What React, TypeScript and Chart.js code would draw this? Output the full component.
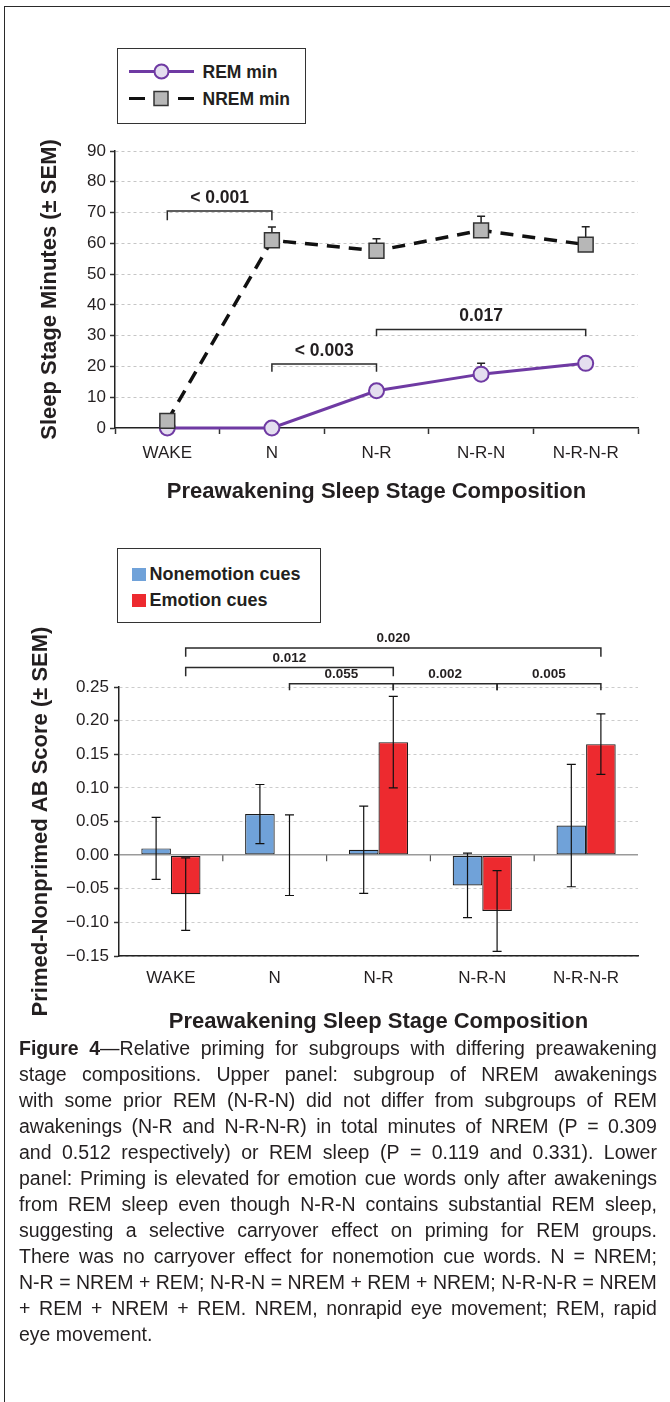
import React, { useEffect, useRef } from "react";
import { Chart, registerables } from "chart.js";

Chart.register(...registerables);

// ---------- data ----------
const categories = ["WAKE", "N", "N-R", "N-R-N", "N-R-N-R"];

const upperSeriesNames = ["REM min", "NREM min"];
const remMinutes = [0, 0, 12.1, 17.5, 21.0];
const remSem = [0, 0, 1.8, 3.5, 1.8];
const nremMinutes = [2.3, 61.0, 57.6, 64.2, 59.6];
const nremSem = [1.0, 4.3, 3.9, 4.6, 5.8];
const upperYTitle = "Sleep Stage Minutes (± SEM)";
const upperYMin = 0;
const upperYMax = 90;
const upperYStep = 10;
// [fromIndex, toIndex, barValue, tickEndValue, label]
const upperBrackets: [number, number, number, number, string][] = [
  [0, 1, 70.5, 67.5, "< 0.001"],
  [1, 2, 20.8, 18.3, "< 0.003"],
  [2, 4, 32.0, 29.8, "0.017"],
];

const lowerSeriesNames = ["Nonemotion cues", "Emotion cues"];
const nonemotion = [0.01, 0.061, 0.008, -0.045, 0.044];
const nonemotionSem = [0.046, 0.044, 0.065, 0.048, 0.091];
const emotion = [-0.058, 0.0, 0.168, -0.083, 0.165];
const emotionSem = [0.054, 0.06, 0.068, 0.06, 0.045];
const lowerYTitle = "Primed-Nonprimed AB Score (± SEM)";
const lowerYMin = -0.15;
const lowerYMax = 0.25;
const lowerYStep = 0.05;
const lowerBrackets: [number, number, number, number, string][] = [
  [0, 4, 0.308, 0.295, "0.020"],
  [0, 2, 0.279, 0.266, "0.012"],
  [1, 2, 0.255, 0.245, "0.055"],
  [2, 3, 0.255, 0.245, "0.002"],
  [3, 4, 0.255, 0.245, "0.005"],
];

const xTitle = "Preawakening Sleep Stage Composition";

const captionLines = [
  "Figure 4—Relative priming for subgroups with differing preawakening",
  "stage compositions. Upper panel: subgroup of NREM awakenings",
  "with some prior REM (N-R-N) did not differ from subgroups of REM",
  "awakenings (N-R and N-R-N-R) in total minutes of NREM (P = 0.309",
  "and 0.512 respectively) or REM sleep (P = 0.119 and 0.331). Lower",
  "panel: Priming is elevated for emotion cue words only after awakenings",
  "from REM sleep even though N-R-N contains substantial REM sleep,",
  "suggesting a selective carryover effect on priming for REM groups.",
  "There was no carryover effect for nonemotion cue words. N = NREM;",
  "N-R = NREM + REM; N-R-N = NREM + REM + NREM; N-R-N-R = NREM",
  "+ REM + NREM + REM. NREM, nonrapid eye movement; REM, rapid",
  "eye movement.",
];

// ---------- styles ----------
const FONT = "'Liberation Sans', Arial, sans-serif";
const TEXT = "#231f20";
const REM_COLOR = "#6f3aa3";
const REM_FILL = "#e4deef";
const NREM_COLOR = "#111111";
const NREM_FILL = "#b7b7b7";
const BLUE = "#70a2d9";
const RED = "#ed2a2f";

function drawBracket(
  ctx: CanvasRenderingContext2D,
  x1: number,
  x2: number,
  yTop: number,
  yTick: number,
  label: string,
  font: string,
  lw: number,
  gap: number
) {
  ctx.save();
  ctx.strokeStyle = "#2a2a2a";
  ctx.lineWidth = lw;
  ctx.beginPath();
  ctx.moveTo(x1, yTick);
  ctx.lineTo(x1, yTop);
  ctx.lineTo(x2, yTop);
  ctx.lineTo(x2, yTick);
  ctx.stroke();
  ctx.fillStyle = TEXT;
  ctx.font = font;
  ctx.textAlign = "center";
  ctx.textBaseline = "middle";
  ctx.fillText(label, (x1 + x2) / 2, yTop - gap);
  ctx.restore();
}

const upperPlugin = {
  id: "upperExtras",
  beforeDatasetsDraw(chart: any) {
    const { ctx } = chart;
    const y = chart.scales.y;
    const sems = [remSem, nremSem];
    chart.data.datasets.forEach((ds: any, di: number) => {
      const meta = chart.getDatasetMeta(di);
      const sem = sems[di];
      meta.data.forEach((pt: any, j: number) => {
        if (!sem[j]) return;
        const v = ds.data[j] as number;
        const base = y.getPixelForValue(v);
        const top = y.getPixelForValue(v + sem[j]);
        ctx.save();
        ctx.strokeStyle = "#222";
        ctx.lineWidth = 1.5;
        ctx.beginPath();
        ctx.moveTo(pt.x, base);
        ctx.lineTo(pt.x, top);
        ctx.moveTo(pt.x - 4, top);
        ctx.lineTo(pt.x + 4, top);
        ctx.stroke();
        ctx.restore();
      });
    });
  },
  afterDraw(chart: any) {
    const { ctx } = chart;
    const y = chart.scales.y;
    const meta = chart.getDatasetMeta(0);
    upperBrackets.forEach(([a, b, top, tick, label]) => {
      drawBracket(
        ctx,
        meta.data[a].x,
        meta.data[b].x,
        y.getPixelForValue(top),
        y.getPixelForValue(tick),
        label,
        `bold 17.5px ${FONT}`,
        1.5,
        13
      );
    });
  },
};

const lowerPlugin = {
  id: "lowerExtras",
  afterDatasetsDraw(chart: any) {
    const { ctx } = chart;
    const y = chart.scales.y;
    const x = chart.scales.x;
    const sems = [nonemotionSem, emotionSem];
    // small tick marks on the zero line between categories
    const zeroY = y.getPixelForValue(0);
    ctx.save();
    ctx.strokeStyle = "#555";
    ctx.lineWidth = 1.2;
    for (let i = 0; i < categories.length - 1; i++) {
      const bx = (x.getPixelForValue(i) + x.getPixelForValue(i + 1)) / 2;
      ctx.beginPath();
      ctx.moveTo(bx, zeroY);
      ctx.lineTo(bx, zeroY + 6);
      ctx.stroke();
    }
    ctx.restore();
    chart.data.datasets.forEach((ds: any, di: number) => {
      const meta = chart.getDatasetMeta(di);
      const sem = sems[di];
      meta.data.forEach((bar: any, j: number) => {
        const v = ds.data[j] as number;
        const hi = y.getPixelForValue(v + sem[j]);
        const lo = y.getPixelForValue(v - sem[j]);
        ctx.save();
        ctx.strokeStyle = "#111";
        ctx.lineWidth = 1.2;
        ctx.beginPath();
        ctx.moveTo(bar.x, hi);
        ctx.lineTo(bar.x, lo);
        ctx.moveTo(bar.x - 4.5, hi);
        ctx.lineTo(bar.x + 4.5, hi);
        ctx.moveTo(bar.x - 4.5, lo);
        ctx.lineTo(bar.x + 4.5, lo);
        ctx.stroke();
        ctx.restore();
      });
    });
  },
  afterDraw(chart: any) {
    const { ctx } = chart;
    const y = chart.scales.y;
    const meta = chart.getDatasetMeta(1);
    lowerBrackets.forEach(([a, b, top, tick, label]) => {
      drawBracket(
        ctx,
        meta.data[a].x,
        meta.data[b].x,
        y.getPixelForValue(top),
        y.getPixelForValue(tick),
        label,
        `bold 13.5px ${FONT}`,
        1.5,
        9.5
      );
    });
  },
};

const isZero = (c: any) => c && c.tick && Math.abs(c.tick.value) < 1e-9;

function fixScale(size: { width?: number; height?: number }) {
  return (s: any) => {
    if (size.width !== undefined) s.width = size.width;
    if (size.height !== undefined) s.height = size.height;
    s.paddingLeft = 0;
    s.paddingRight = 0;
    s.paddingTop = 0;
    s.paddingBottom = 0;
  };
}

function CaptionLine({ text, index, last }: { text: string; index: number; last: boolean }) {
  const words = text.split(" ");
  const render = (w: string, i: number) => {
    if (index === 0 && i === 0) return <b>{w}</b>;
    if (index === 0 && i === 1) {
      const [a, ...rest] = w.split("—");
      return (
        <>
          <b>{a}</b>—{rest.join("—")}
        </>
      );
    }
    return w;
  };
  if (last) return <div>{text}</div>;
  return (
    <div style={{ display: "flex", justifyContent: "space-between", whiteSpace: "pre" }}>
      {words.map((w, i) => (
        <span key={i}>{render(w, i)}</span>
      ))}
    </div>
  );
}

export default function App() {
  const upRef = useRef<HTMLCanvasElement>(null);
  const loRef = useRef<HTMLCanvasElement>(null);

  useEffect(() => {
    const tickFont = { family: FONT, size: 17 };
    const titleFont = { family: FONT, size: 22, weight: "bold" as const };

    const c1 = new Chart(upRef.current as HTMLCanvasElement, {
      type: "line",
      data: {
        labels: categories,
        datasets: [
          {
            label: upperSeriesNames[0],
            data: remMinutes,
            borderColor: REM_COLOR,
            borderWidth: 3,
            pointRadius: 7.5,
            pointBackgroundColor: REM_FILL,
            pointBorderColor: REM_COLOR,
            pointBorderWidth: 2,
            tension: 0,
            clip: false as any,
            order: 1,
          },
          {
            label: upperSeriesNames[1],
            data: nremMinutes,
            borderColor: NREM_COLOR,
            borderWidth: 3.5,
            borderDash: [13, 9],
            pointStyle: "rect",
            pointRadius: 10.5,
            pointBackgroundColor: NREM_FILL,
            pointBorderColor: "#333",
            pointBorderWidth: 1.5,
            tension: 0,
            clip: false as any,
            order: 0,
          },
        ],
      },
      options: {
        responsive: false,
        animation: false,
        events: [],
        layout: { padding: { left: 0, right: 32, top: 21, bottom: 0 } },
        plugins: { legend: { display: false }, tooltip: { enabled: false } },
        scales: {
          x: {
            offset: true,
            grid: {
              display: true,
              offset: true,
              drawOnChartArea: false,
              drawTicks: true,
              tickLength: 6,
              tickColor: "#333",
              tickWidth: 1.5,
              color: "#333",
            },
            border: { display: true, color: "#222", width: 1.5 },
            ticks: { color: TEXT, font: tickFont, padding: 9, maxRotation: 0, autoSkip: false },
            title: {
              display: true,
              text: xTitle,
              color: TEXT,
              font: titleFont,
              padding: { top: 0, bottom: 10 },
            },
            afterFit: fixScale({ height: 87 }),
          },
          y: {
            min: upperYMin,
            max: upperYMax,
            ticks: { stepSize: upperYStep, color: TEXT, font: tickFont, padding: 4 },
            grid: {
              color: (c: any) => (isZero(c) ? "rgba(0,0,0,0)" : "#c6c6c6"),
              lineWidth: 1,
              tickLength: 5,
              tickColor: "#333",
              tickWidth: 1.5,
            },
            border: { display: true, color: "#222", width: 1.5, dash: [3, 3] },
            title: {
              display: true,
              text: upperYTitle,
              color: TEXT,
              font: titleFont,
              padding: { top: 37, bottom: 0 },
            },
            afterFit: fixScale({ width: 115 }),
          },
        },
      },
      plugins: [upperPlugin],
    });

    const c2 = new Chart(loRef.current as HTMLCanvasElement, {
      type: "bar",
      data: {
        labels: categories,
        datasets: [
          {
            label: lowerSeriesNames[0],
            data: nonemotion,
            backgroundColor: BLUE,
            borderColor: "#1a1a1a",
            borderWidth: 1.2,
            borderSkipped: false,
            categoryPercentage: 0.57,
            barPercentage: 1.0,
          },
          {
            label: lowerSeriesNames[1],
            data: emotion,
            backgroundColor: RED,
            borderColor: "#1a1a1a",
            borderWidth: 1.2,
            borderSkipped: false,
            categoryPercentage: 0.57,
            barPercentage: 1.0,
          },
        ],
      },
      options: {
        responsive: false,
        animation: false,
        events: [],
        layout: { padding: { left: 0, right: 32, top: 62, bottom: 0 } },
        plugins: { legend: { display: false }, tooltip: { enabled: false } },
        scales: {
          x: {
            grid: { display: false, drawTicks: false },
            border: { display: true, color: "#222", width: 1.5 },
            ticks: { color: TEXT, font: tickFont, padding: 12.5, maxRotation: 0, autoSkip: false },
            title: {
              display: true,
              text: xTitle,
              color: TEXT,
              font: titleFont,
              padding: { top: 0, bottom: 10 },
            },
            afterFit: fixScale({ height: 89 }),
          },
          y: {
            min: lowerYMin,
            max: lowerYMax,
            ticks: {
              stepSize: lowerYStep,
              color: TEXT,
              font: tickFont,
              padding: 5,
              callback: (v: any) => Number(v).toFixed(2).replace("-", "\u2212"),
            },
            grid: {
              color: (c: any) => (isZero(c) ? "#9a9a9a" : "#cccccc"),
              lineWidth: (c: any) => (isZero(c) ? 1.6 : 1),
              tickLength: 5,
              tickColor: "#333",
              tickWidth: 1.5,
            },
            border: {
              display: true,
              color: "#222",
              width: 1.5,
              dash: (c: any) => (isZero(c) ? [] : [3, 3]),
            } as any,
            title: {
              display: true,
              text: lowerYTitle,
              color: TEXT,
              font: titleFont,
              padding: { top: 28, bottom: 0 },
            },
            afterFit: fixScale({ width: 119 }),
          },
        },
      },
      plugins: [lowerPlugin],
    });

    return () => {
      c1.destroy();
      c2.destroy();
    };
  }, []);

  const legendText: React.CSSProperties = {
    position: "absolute",
    fontFamily: FONT,
    fontWeight: "bold",
    color: TEXT,
    whiteSpace: "nowrap",
    lineHeight: "22px",
  };

  return (
    <div
      style={{
        position: "absolute",
        left: 0,
        top: 0,
        width: 670,
        height: 1402,
        overflow: "hidden",
        background: "#fff",
        fontFamily: FONT,
      }}
    >
      {/* frame */}
      <div
        style={{
          position: "absolute",
          left: 4,
          top: 6,
          width: 700,
          height: 1500,
          borderTop: "1.5px solid #2a2a2a",
          borderLeft: "1.5px solid #2a2a2a",
        }}
      />

      {/* upper legend */}
      <div
        style={{
          position: "absolute",
          left: 117,
          top: 48,
          width: 189,
          height: 76,
          border: "1.5px solid #333",
          boxSizing: "border-box",
        }}
      >
        <svg width={80} height={72} style={{ position: "absolute", left: 0, top: 0 }}>
          <line x1={11} y1={22.5} x2={76} y2={22.5} stroke={REM_COLOR} strokeWidth={3} />
          <circle cx={43.5} cy={22.5} r={7} fill={REM_FILL} stroke={REM_COLOR} strokeWidth={2} />
          <line x1={11} y1={49.5} x2={27} y2={49.5} stroke={NREM_COLOR} strokeWidth={3} />
          <rect x={36} y={42.5} width={14} height={14} fill={NREM_FILL} stroke="#333" strokeWidth={1.5} />
          <line x1={60} y1={49.5} x2={76} y2={49.5} stroke={NREM_COLOR} strokeWidth={3} />
        </svg>
        <span style={{ ...legendText, left: 84.5, top: 11.5, fontSize: 17.5 }}>{upperSeriesNames[0]}</span>
        <span style={{ ...legendText, left: 84.5, top: 38.5, fontSize: 17.5 }}>{upperSeriesNames[1]}</span>
      </div>

      <canvas
        ref={upRef}
        width={670}
        height={385}
        style={{ position: "absolute", left: 0, top: 130, width: 670, height: 385 }}
      />

      {/* lower legend */}
      <div
        style={{
          position: "absolute",
          left: 117,
          top: 548,
          width: 204,
          height: 75,
          border: "1.5px solid #333",
          boxSizing: "border-box",
        }}
      >
        <div style={{ position: "absolute", left: 13.5, top: 18.5, width: 14, height: 13, background: BLUE }} />
        <div style={{ position: "absolute", left: 13.5, top: 44.5, width: 14, height: 13, background: RED }} />
        <span style={{ ...legendText, left: 31.5, top: 13.5, fontSize: 18 }}>{lowerSeriesNames[0]}</span>
        <span style={{ ...legendText, left: 31.5, top: 39.5, fontSize: 18 }}>{lowerSeriesNames[1]}</span>
      </div>

      <canvas
        ref={loRef}
        width={670}
        height={420}
        style={{ position: "absolute", left: 0, top: 625, width: 670, height: 420 }}
      />

      {/* caption */}
      <div
        style={{
          position: "absolute",
          left: 19,
          top: 1035,
          width: 638,
          fontFamily: FONT,
          fontSize: 19.5,
          lineHeight: "26px",
          color: TEXT,
        }}
      >
        {captionLines.map((t, i) => (
          <CaptionLine key={i} text={t} index={i} last={i === captionLines.length - 1} />
        ))}
      </div>
    </div>
  );
}
